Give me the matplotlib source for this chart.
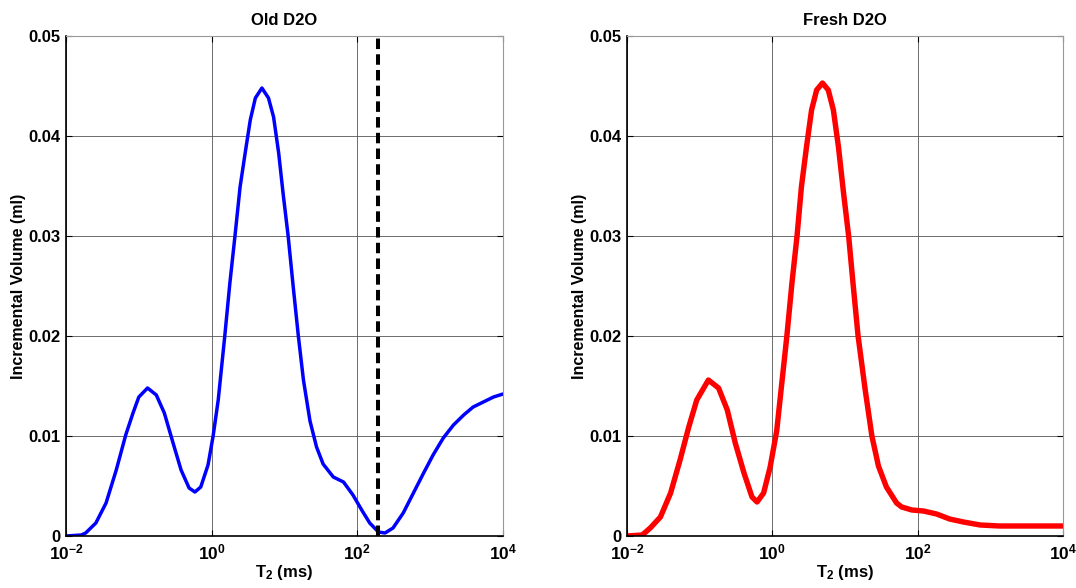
import numpy as np
import matplotlib
matplotlib.use("Agg")
import matplotlib.pyplot as plt

plt.rcParams['font.family'] = ['Liberation Sans', 'DejaVu Sans']
plt.rcParams['font.weight'] = 'bold'
plt.rcParams['mathtext.fontset'] = 'custom'
plt.rcParams['mathtext.rm'] = 'Liberation Sans:bold'
plt.rcParams['mathtext.bf'] = 'Liberation Sans:bold'
plt.rcParams['mathtext.it'] = 'Liberation Sans:bold'

# Old D2O: log10 of T2 (ms) and incremental volume (ml)
old_log_t2 = [-2.00, -1.79, -1.73, -1.59, -1.45, -1.31, -1.18, -1.08, -1.00, -0.88, -0.76,
              -0.65, -0.53, -0.42, -0.31, -0.23, -0.15, -0.05, 0.02, 0.09, 0.18, 0.25,
              0.32, 0.39, 0.46, 0.53, 0.60, 0.69, 0.78, 0.85, 0.92, 0.98, 1.05, 1.12,
              1.19, 1.26, 1.35, 1.44, 1.53, 1.67, 1.81, 1.94, 2.06, 2.17, 2.29, 2.38,
              2.49, 2.63, 2.77, 2.91, 3.04, 3.18, 3.32, 3.46, 3.59, 3.73, 3.87, 4.00]
old_vol = [0.0, 0.0001, 0.0003, 0.0013, 0.0033, 0.0066, 0.0101, 0.0123, 0.0139, 0.0148, 0.0141,
           0.0123, 0.0093, 0.0066, 0.0048, 0.0044, 0.0049, 0.0071, 0.0100, 0.0136, 0.0200, 0.0253,
           0.0300, 0.0349, 0.0383, 0.0416, 0.0438, 0.0448, 0.0438, 0.0419, 0.0383, 0.0343, 0.0300,
           0.0249, 0.0200, 0.0156, 0.0115, 0.0089, 0.0072, 0.0059, 0.0054, 0.0041, 0.0026,
           0.0013, 0.0004, 0.0003, 0.0008, 0.0023, 0.0043, 0.0063, 0.0081, 0.0098, 0.0111,
           0.0121, 0.0129, 0.0134, 0.0139, 0.0142]
cutoff_t2 = 195.0

# Fresh D2O
fresh_log_t2 = [-2.00, -1.79, -1.68, -1.54, -1.40, -1.27, -1.15, -1.04, -0.88, -0.74, -0.62,
                -0.51, -0.39, -0.28, -0.21, -0.12, -0.03, 0.06, 0.11, 0.20, 0.27, 0.34, 0.40,
                0.47, 0.54, 0.61, 0.69, 0.77, 0.84, 0.91, 0.98, 1.05, 1.11, 1.18, 1.28, 1.37,
                1.46, 1.57, 1.71, 1.78, 1.92, 2.08, 2.26, 2.44, 2.63, 2.86, 3.13, 3.50, 4.00]
fresh_vol = [0.0, 0.0001, 0.0008, 0.0019, 0.0043, 0.0076, 0.0109, 0.0136, 0.0156, 0.0148, 0.0126,
             0.0093, 0.0063, 0.0039, 0.0034, 0.0043, 0.0069, 0.0105, 0.0139, 0.0200, 0.0253,
             0.0300, 0.0349, 0.0389, 0.0426, 0.0446, 0.0453, 0.0446, 0.0426, 0.0389, 0.0343,
             0.0300, 0.0253, 0.0200, 0.0145, 0.0100, 0.0070, 0.0049, 0.0033, 0.0029, 0.0026,
             0.0025, 0.0022, 0.0017, 0.0014, 0.0011, 0.0010, 0.0010, 0.0010]

titles = ['Old D2O', 'Fresh D2O']
y_ticks = [0, 0.01, 0.02, 0.03, 0.04, 0.05]
y_tick_labels = ['0', '0.01', '0.02', '0.03', '0.04', '0.05']
x_ticks = [1e-2, 1e0, 1e2, 1e4]
x_tick_labels = [r'$\mathbf{10^{-2}}$', r'$\mathbf{10^{0}}$', r'$\mathbf{10^{2}}$', r'$\mathbf{10^{4}}$']

fig = plt.figure(figsize=(10.76, 5.88), dpi=100)
ax1 = fig.add_axes([66/1076, 52/588, 437/1076, 500/588])
ax2 = fig.add_axes([627/1076, 52/588, 436/1076, 500/588])

ax1.plot(10**np.array(old_log_t2), old_vol, color='#0000ff', lw=2.5,
         solid_joinstyle='round', solid_capstyle='round')
ax1.axvline(cutoff_t2, color='black', lw=2.9, ls=(0, (2.6, 1.3)))
ax2.plot(10**np.array(fresh_log_t2), fresh_vol, color='#ff0000', lw=3.9,
         solid_joinstyle='round', solid_capstyle='round')

for ax, title in zip([ax1, ax2], titles):
    ax.set_xscale('log')
    ax.set_xlim(1e-2, 1e4)
    ax.set_ylim(0, 0.05)
    ax.set_xticks(x_ticks)
    ax.set_xticklabels(x_tick_labels)
    ax.minorticks_off()
    ax.set_yticks(y_ticks)
    ax.set_yticklabels(y_tick_labels)
    ax.grid(True, color='#555555', lw=0.6)
    ax.tick_params(axis='y', direction='in', length=4, labelsize=12, width=0.8, pad=4,
                   right=True)
    ax.tick_params(axis='x', direction='in', length=4, labelsize=12.5, width=0.8, pad=5,
                   top=True)
    for lab in ax.get_yticklabels():
        lab.set_fontweight('bold')
    for s in ['left', 'bottom']:
        ax.spines[s].set_linewidth(1.2)
    for s in ['top', 'right']:
        ax.spines[s].set_color('#999999')
        ax.spines[s].set_linewidth(0.8)
    ax.set_title(title, fontsize=12, fontweight='bold', pad=8)
    ax.set_xlabel(r'T$_\mathbf{2}$ (ms)', fontsize=12, fontweight='bold', labelpad=0)
    ax.set_ylabel('Incremental Volume (ml)', fontsize=11.5, fontweight='bold', labelpad=1.5)

fig.savefig('out.png', dpi=100)
